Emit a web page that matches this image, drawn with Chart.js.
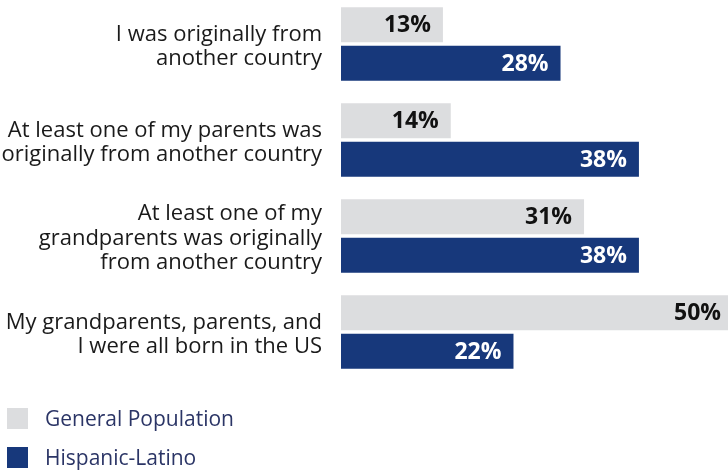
<!DOCTYPE html>
<html>
<head>
<meta charset="utf-8">
<script src="https://cdn.jsdelivr.net/npm/chart.js@4/dist/chart.umd.min.js"></script>
<style>
  html, body { margin: 0; padding: 0; background: #fff; }
  #wrap { position: relative; width: 728px; height: 471px; overflow: hidden; }
  #chartBox { position: absolute; left: 0; top: -4px; width: 728px; height: 384px; }
  #legend { position: absolute; left: 0; top: 0; width: 728px; height: 471px; pointer-events: none; }
  .item { position: absolute; left: 7px; height: 21px; font-family: "Open Sans", sans-serif; font-size: 21px; color: #2b3566; white-space: nowrap; }
  .item span.box { position: absolute; left: 0; top: 0; width: 21px; height: 21px; }
  .item span.txt { position: absolute; left: 38px; top: -4px; line-height: 28px; }
</style>
</head>
<body>
<div id="wrap">
  <div id="chartBox"><canvas id="myChart" width="728" height="384"></canvas></div>
  <div id="legend"></div>
</div>
<script>
// categories (multi-line labels)
const categories = [
    ['I was originally from', 'another country'],
    ['At least one of my parents was', 'originally from another country'],
    ['At least one of my', 'grandparents was originally', 'from another country'],
    ['My grandparents, parents, and', 'I were all born in the US']
];
const seriesNames = ['General Population', 'Hispanic-Latino'];
const generalPopulation = [13, 14, 31, 50];
const hispanicLatino = [28, 38, 38, 22];

const barColors = ['#dcdddf', '#17387b'];
const valueColors = ['#111111', '#ffffff'];

// writes "NN%" inside the end of each bar
const valueLabels = {
    id: 'valueLabels',
    afterDatasetsDraw(chart) {
        const ctx = chart.ctx;
        ctx.save();
        ctx.font = 'bold 23px "Open Sans", sans-serif';
        ctx.textAlign = 'right';
        ctx.textBaseline = 'middle';
        chart.data.datasets.forEach((ds, i) => {
            const meta = chart.getDatasetMeta(i);
            ctx.fillStyle = valueColors[i];
            meta.data.forEach((bar, j) => {
                ctx.fillText(ds.data[j] + '%', bar.x - 12, bar.y + 1);
            });
        });
        ctx.restore();
    }
};

// category text, right aligned left of the bars, lines centred on each band
const categoryLabels = {
    id: 'categoryLabels',
    afterDraw(chart) {
        const ctx = chart.ctx;
        const yScale = chart.scales.y;
        const right = chart.chartArea.left - 19;
        const lineGap = 24.3;
        ctx.save();
        ctx.font = '22px "Open Sans", sans-serif';
        ctx.fillStyle = '#1a1a1a';
        ctx.textAlign = 'right';
        ctx.textBaseline = 'alphabetic';
        chart.data.labels.forEach((lines, i) => {
            const cy = yScale.getPixelForValue(i);
            lines.forEach((line, k) => {
                const y = cy + (k - (lines.length - 1) / 2) * lineGap + 8.7;
                ctx.fillText(line, right, y);
            });
        });
        ctx.restore();
    }
};

const ctx = document.getElementById('myChart').getContext('2d');
const myChart = new Chart(ctx, {
    type: 'bar',
    data: {
        labels: categories,
        datasets: [
            { label: seriesNames[0], data: generalPopulation, backgroundColor: barColors[0] },
            { label: seriesNames[1], data: hispanicLatino, backgroundColor: barColors[1] }
        ]
    },
    options: {
        indexAxis: 'y',
        responsive: false,
        animation: false,
        devicePixelRatio: 1,
        layout: { padding: 0 },
        datasets: {
            bar: { categoryPercentage: 0.8, barPercentage: 0.91, borderWidth: 0 }
        },
        plugins: {
            legend: { display: false },
            tooltip: { enabled: false }
        },
        scales: {
            x: {
                display: false,
                min: 0,
                max: 49.36
            },
            y: {
                grid: { display: false, drawTicks: false },
                border: { display: false },
                ticks: { display: false },
                afterFit(scale) {
                    scale.width = 341;
                    scale.paddingTop = 0;
                    scale.paddingBottom = 0;
                }
            }
        }
    },
    plugins: [valueLabels, categoryLabels]
});

// legend stacked under the chart
const legendEl = document.getElementById('legend');
const legendTops = [408, 447];
myChart.data.datasets.forEach((ds, i) => {
    const item = document.createElement('div');
    item.className = 'item';
    item.style.top = legendTops[i] + 'px';
    item.innerHTML = '<span class="box" style="background:' + ds.backgroundColor + '"></span><span class="txt">' + ds.label + '</span>';
    legendEl.appendChild(item);
});
</script>
</body>
</html>
